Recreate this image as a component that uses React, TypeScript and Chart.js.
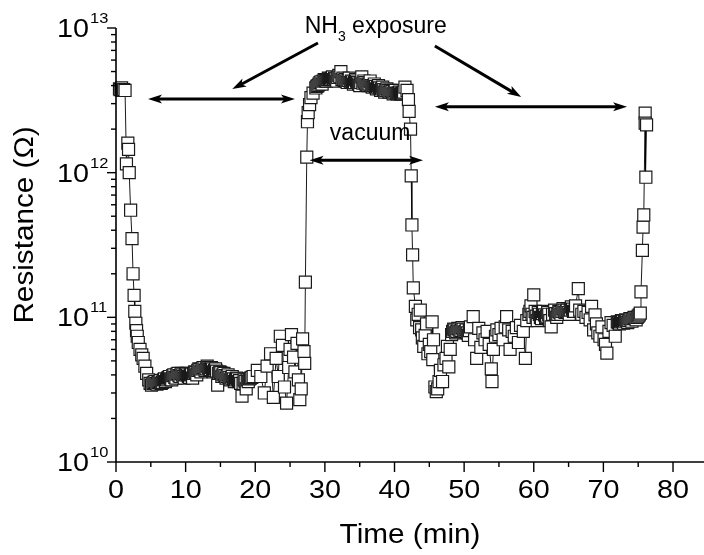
import React, { useEffect, useRef } from 'react';
import { Chart, registerables } from 'chart.js';

Chart.register(...registerables);

// ---------- data ----------
const timeMin: number[] = [
  0.5, 0.6, 0.8, 0.9, 1.1, 1.3,
  1.7, 1.8, 1.5, 1.9, 2.1, 2.3, 2.45, 2.6, 2.7, 2.85, 2.95, 3.05, 3.2, 3.45, 3.7, 3.9, 4.15, 4.4, 4.7, 4.9,
  5.1, 5.3, 5.6, 5.9, 6.2, 6.5, 6.8, 7.1, 7.4, 7.7, 8.0, 8.3, 8.6, 8.9, 9.2, 9.5, 9.8, 10.1, 10.4, 10.7, 11.0,
  11.3, 11.6, 11.9, 12.2, 12.5, 12.8, 13.1, 13.4, 13.7, 14.0, 14.3, 14.6, 14.9, 15.2, 15.5, 15.8, 16.1, 16.4,
  16.7, 17.0, 17.3, 17.6, 17.9, 18.1, 18.4, 18.7, 19.0, 19.3, 19.7,
  20.3, 20.8, 21.3, 21.7, 22.2, 22.6, 23.0, 23.3, 23.6, 23.9, 24.2, 24.5, 24.8, 25.0, 25.2, 25.5, 25.7, 26.0,
  26.2, 26.4, 26.6, 26.8, 27.0, 27.1, 27.2,
  27.4, 27.5, 27.6, 27.8, 28.0, 28.3, 28.7, 29.0, 29.3, 29.6, 29.9, 30.2, 30.5, 30.8, 31.1, 31.4, 31.7, 32.0,
  32.3, 32.6, 32.9, 33.2, 33.5, 33.8, 34.1, 34.4, 34.7, 35.0, 35.3, 35.6, 35.9, 36.2, 36.5, 36.8, 37.1, 37.4,
  37.7, 38.0, 38.3, 38.6, 38.9, 39.2, 39.5, 39.8, 40.1, 40.4, 40.7, 41.0, 41.3, 41.5, 41.8, 42.0, 42.1, 42.3,
  42.4, 42.5, 42.6, 42.7,
  43.0, 43.2, 43.4, 43.6, 43.7, 43.9, 44.0, 44.2, 44.4, 44.6, 44.8, 45.0, 45.2, 45.4, 45.5, 45.6, 45.8, 46.0,
  46.2, 46.4, 46.6, 46.9, 47.1, 47.4, 47.6, 47.8, 48.0, 48.2, 48.5, 48.8, 49.1, 49.4, 49.7, 50.0, 50.3, 50.6,
  50.9, 51.3, 51.5, 51.8, 52.1, 52.4, 52.7, 53.0, 53.3, 53.6, 53.9, 54.0, 54.2, 54.5, 54.7, 55.0, 55.3, 55.6,
  55.9, 56.1, 56.4, 56.6, 56.9, 57.2, 57.5, 57.8, 58.1, 58.5, 58.8, 59.0, 59.3, 59.6, 59.9, 60.0, 60.2, 60.5,
  60.8, 61.1, 61.4, 61.7, 62.0, 62.3, 62.5, 62.7, 63.0, 63.3, 63.6, 63.9, 64.2, 64.5, 64.8, 65.1, 65.4, 65.7,
  66.0, 66.4, 66.6, 66.9, 67.2, 67.5, 67.8, 68.1, 68.3, 68.6, 68.8, 69.0, 69.2, 69.5, 69.8, 70.1, 70.3, 70.5,
  70.8, 71.1, 71.4, 71.7, 72.0, 72.3, 72.6, 72.9, 73.2, 73.5, 73.8, 74.1, 74.4, 74.7, 75.0, 75.3,
  75.4, 75.6, 75.7, 75.8, 76.1, 76.2, 76.0, 76.0,
];

const resistanceOhm: number[] = [
  3.8e12, 3.75e12, 3.85e12, 3.7e12, 3.75e12, 3.7e12,
  1.6e12, 1.45e12, 1.15e12, 1.0e12, 5.5e11, 3.5e11, 2.0e11, 1.42e11, 1.1e11, 9.1e10, 8.1e10, 7.4e10, 6.7e10, 6.0e10, 5.5e10, 5.2e10, 4.6e10, 4.1e10, 3.7e10, 3.5e10,
  3.4e10, 3.5e10, 3.6e10, 3.45e10, 3.6e10, 3.5e10, 3.7e10, 3.6e10, 3.8e10, 3.9e10, 3.7e10, 4.0e10, 3.8e10, 4.1e10, 3.9e10, 4.0e10, 3.8e10, 4.1e10, 3.9e10, 4.0e10, 3.8e10,
  4.2e10, 4.0e10, 4.4e10, 4.2e10, 4.5e10, 4.3e10, 4.6e10, 4.4e10, 4.5e10, 4.2e10, 4.4e10, 3.4e10, 4.2e10, 3.9e10, 4.1e10, 3.8e10, 4.0e10, 3.7e10,
  3.9e10, 3.6e10, 3.8e10, 3.6e10, 3.5e10, 2.85e10, 3.7e10, 3.2e10, 3.6e10, 3.8e10, 3.9e10,
  4.3e10, 3.9e10, 3.0e10, 4.6e10, 5.6e10, 2.8e10, 5.2e10, 3.9e10, 7.4e10, 6.4e10, 3.3e10, 2.55e10, 4.5e10, 6.0e10, 7.6e10, 5.3e10, 4.2e10, 6.6e10,
  3.7e10, 2.7e10, 3.2e10, 7.1e10, 5.8e10, 4.8e10, 1.75e11,
  1.28e12, 2.25e12, 2.6e12, 2.95e12, 3.3e12, 3.55e12, 3.85e12, 4.0e12, 4.2e12, 4.1e12, 4.4e12, 4.3e12, 4.5e12, 4.4e12, 4.6e12, 4.5e12, 4.3e12, 4.7e12,
  5.0e12, 4.5e12, 4.4e12, 4.2e12, 4.5e12, 4.3e12, 4.1e12, 4.4e12, 4.2e12, 4.0e12, 4.6e12, 4.3e12, 4.1e12, 4.0e12, 4.3e12, 3.9e12, 4.1e12, 3.8e12,
  4.0e12, 3.7e12, 3.9e12, 3.6e12, 3.8e12, 3.6e12, 3.7e12, 3.5e12, 3.7e12, 3.5e12, 3.6e12, 3.5e12, 3.6e12, 3.9e12, 3.7e12, 3.2e12, 2.65e12, 2.0e12,
  9.5e11, 4.35e11, 2.7e11, 1.6e11,
  1.19e11, 9.6e10, 1.05e11, 8.5e10, 1.12e11, 8.2e10, 7.2e10, 6.3e10, 7.5e10, 9.0e10, 5.6e10, 6.5e10, 5.8e10, 9.3e10, 5.1e10, 7.0e10, 3.3e10, 3.07e10,
  3.2e10, 3.6e10, 4.3e10, 3.6e10, 4.7e10, 5.2e10, 6.3e10, 4.55e10, 6.0e10, 7.6e10, 8.3e10, 7.8e10, 8.4e10, 8.0e10, 8.5e10, 7.9e10, 8.2e10, 7.5e10,
  8.6e10, 1.01e11, 7.0e10, 5.2e10, 8.4e10, 6.2e10, 7.8e10, 7.0e10, 8.0e10, 6.5e10, 4.4e10, 3.6e10, 6.0e10, 7.4e10, 8.2e10, 7.6e10, 8.4e10, 7.0e10,
  8.6e10, 1.01e11, 8.2e10, 6.0e10, 8.0e10, 7.4e10, 8.5e10, 6.7e10, 8.8e10, 8.0e10, 5.2e10, 9.5e10, 1.05e11, 1.2e11, 1.0e11, 1.43e11, 1.1e11, 9.5e10,
  1.05e11, 9.8e10, 1.1e11, 1.0e11, 1.08e11, 9.5e10, 8.6e10, 1.05e11, 1.12e11, 1.0e11, 1.1e11, 1.05e11, 1.15e11, 1.08e11, 1.12e11, 1.05e11, 1.18e11, 1.1e11,
  1.2e11, 1.58e11, 1.12e11, 1.05e11, 1.1e11, 1.0e11, 1.08e11, 9.6e10, 1.19e11, 8.2e10, 1.04e11, 9.0e10, 7.8e10, 7.4e10, 8.6e10, 7.0e10, 6.5e10, 5.65e10,
  8.0e10, 9.2e10, 8.8e10, 7.4e10, 9.3e10, 9.0e10, 9.5e10, 9.1e10, 9.6e10, 9.2e10, 9.8e10, 9.4e10, 1.0e11, 9.6e10, 1.02e11, 1.07e11,
  1.5e11, 2.9e11, 4.2e11, 5.1e11, 9.3e11, 2.14e12, 2.58e12, 2.2e12,
];

// additional readings in the densely sampled stretches
const denseTimeMin: number[] = [
  5.45, 5.75, 6.05, 6.35, 6.65, 6.95, 7.25, 7.55, 7.85, 8.15, 8.45, 8.75, 9.05, 9.35, 9.65, 9.95, 10.25, 10.55,
  10.85, 11.15, 11.45, 11.75, 12.05, 12.35, 12.65, 12.95, 13.25, 13.55, 13.85, 14.15, 14.45, 14.75, 15.05, 15.35,
  15.65, 15.95, 16.25, 16.55, 16.85, 17.15, 17.45, 17.75, 18.25, 18.55, 18.85, 19.15, 19.5,
  28.85, 29.15, 29.45, 29.75, 30.05, 30.35, 30.65, 30.95, 31.25, 31.55, 31.85, 32.15, 32.45, 32.75, 33.05, 33.35,
  33.65, 33.95, 34.25, 34.55, 34.85, 35.15, 35.45, 35.75, 36.05, 36.35, 36.65, 36.95, 37.25, 37.55, 37.85, 38.15,
  38.45, 38.75, 39.05, 39.35, 39.65, 39.95, 40.25, 40.55, 40.85, 41.15,
  48.35, 48.65, 48.95, 49.25, 49.55, 49.85, 50.15, 50.45, 50.75,
  59.45, 59.75, 60.35, 60.65, 60.95, 61.25, 61.55, 61.85, 62.15, 63.15, 63.45, 63.75, 64.05, 64.35, 64.65, 64.95,
  65.25, 65.55, 65.85,
  72.15, 72.45, 72.75, 73.05, 73.35, 73.65, 73.95, 74.25, 74.55, 74.85, 75.15,
];
const denseResistanceOhm: number[] = [
  3.55e10, 3.5e10, 3.55e10, 3.65e10, 3.55e10, 3.75e10, 3.7e10, 3.85e10, 3.75e10, 3.95e10, 3.85e10, 4.05e10, 3.95e10, 4.1e10, 3.9e10, 4.0e10, 4.0e10, 3.85e10,
  4.05e10, 4.1e10, 4.15e10, 4.3e10, 4.35e10, 4.4e10, 4.5e10, 4.4e10, 4.5e10, 4.35e10, 4.4e10, 4.3e10, 4.25e10, 4.1e10, 4.15e10, 4.0e10,
  3.95e10, 3.9e10, 3.85e10, 3.8e10, 3.75e10, 3.7e10, 3.75e10, 3.65e10, 3.5e10, 3.6e10, 3.7e10, 3.75e10, 3.85e10,
  3.95e12, 4.1e12, 4.25e12, 4.3e12, 4.35e12, 4.4e12, 4.45e12, 4.5e12, 4.4e12, 4.45e12, 4.55e12, 4.6e12, 4.4e12, 4.35e12, 4.3e12, 4.35e12,
  4.2e12, 4.25e12, 4.2e12, 4.3e12, 4.1e12, 4.2e12, 4.15e12, 4.2e12, 4.05e12, 4.1e12, 4.0e12, 4.0e12, 3.95e12, 3.9e12, 3.85e12, 3.8e12,
  3.75e12, 3.7e12, 3.7e12, 3.6e12, 3.65e12, 3.6e12, 3.55e12, 3.55e12, 3.5e12, 3.55e12,
  8.0e10, 8.2e10, 8.0e10, 8.3e10, 8.1e10, 8.3e10, 8.0e10, 7.8e10, 8.1e10,
  1.1e11, 1.05e11, 1.02e11, 1.08e11, 1.0e11, 1.06e11, 1.04e11, 1.02e11, 1.05e11, 1.06e11, 1.05e11, 1.08e11, 1.1e11, 1.12e11, 1.1e11, 1.08e11,
  1.12e11, 1.14e11, 1.1e11,
  9.2e10, 9.3e10, 9.4e10, 9.4e10, 9.5e10, 9.5e10, 9.7e10, 9.8e10, 9.9e10, 1.0e11, 1.04e11,
];

const xMajorTicks: number[] = [0, 10, 20, 30, 40, 50, 60, 70, 80];
const xMinorTicks: number[] = [5, 15, 25, 35, 45, 55, 65, 75];
const yDecadeExponents: number[] = [10, 11, 12, 13];
const yMinorMultipliers: number[] = [2, 3, 4, 5, 6, 7, 8, 9];

const xAxisTitle = 'Time (min)';
const yAxisTitle = 'Resistance (Ω)';
const exposureMain = 'NH';
const exposureSub = '3';
const exposureRest = ' exposure';
const vacuumText = 'vacuum';

// annotation anchors in data units
const exposureLabelAt = { x: 37.3, y: 9.2e12 };
const vacuumLabelAt = { x: 36.5, y: 1.68e12 };
const doubleArrows = [
  { x1: 4.6, x2: 25.7, y: 3.23e12 },
  { x1: 27.8, x2: 44.1, y: 1.22e12 },
  { x1: 45.8, x2: 73.4, y: 2.85e12 },
];
const pointerArrows = [
  { x1: 29.0, y1: 7.87e12, x2: 16.7, y2: 3.78e12 },
  { x1: 45.8, y1: 7.5e12, x2: 58.2, y2: 3.33e12 },
];

const FONT = '"Liberation Sans", Arial, Helvetica, sans-serif';

function stretchedText(ctx: CanvasRenderingContext2D, text: string, x: number, y: number, sx: number) {
  ctx.save();
  ctx.translate(x, y);
  ctx.scale(sx, 1);
  ctx.fillText(text, 0, 0);
  ctx.restore();
}

function arrowHead(ctx: CanvasRenderingContext2D, fx: number, fy: number, tx: number, ty: number, len: number, half: number) {
  const a = Math.atan2(ty - fy, tx - fx);
  const c = Math.cos(a), s = Math.sin(a);
  ctx.beginPath();
  ctx.moveTo(tx, ty);
  ctx.lineTo(tx - len * c + half * s, ty - len * s - half * c);
  ctx.lineTo(tx - len * 0.75 * c, ty - len * 0.75 * s);
  ctx.lineTo(tx - len * c - half * s, ty - len * s + half * c);
  ctx.closePath();
  ctx.fill();
}

function arrow(ctx: CanvasRenderingContext2D, x1: number, y1: number, x2: number, y2: number, both: boolean) {
  const len = 14, half = 4.5;
  const a = Math.atan2(y2 - y1, x2 - x1);
  const c = Math.cos(a), s = Math.sin(a);
  const sx = both ? x1 + len * 0.7 * c : x1;
  const sy = both ? y1 + len * 0.7 * s : y1;
  ctx.beginPath();
  ctx.moveTo(sx, sy);
  ctx.lineTo(x2 - len * 0.7 * c, y2 - len * 0.7 * s);
  ctx.stroke();
  arrowHead(ctx, x1, y1, x2, y2, len, half);
  if (both) arrowHead(ctx, x2, y2, x1, y1, len, half);
}

const decorPlugin = {
  id: 'decor',
  afterDatasetsDraw(chart: any) {
    const ctx: CanvasRenderingContext2D = chart.ctx;
    const xs = chart.scales.x;
    const ys = chart.scales.y;
    const area = chart.chartArea;
    ctx.save();
    ctx.strokeStyle = '#000';
    ctx.fillStyle = '#000';
    ctx.lineCap = 'butt';

    // axis lines
    ctx.lineWidth = 1.6;
    ctx.beginPath();
    ctx.moveTo(area.left, area.top);
    ctx.lineTo(area.left, area.bottom);
    ctx.lineTo(area.right, area.bottom);
    ctx.stroke();

    // x ticks
    ctx.lineWidth = 1.4;
    for (const v of xMajorTicks) {
      const px = xs.getPixelForValue(v);
      ctx.beginPath(); ctx.moveTo(px, area.bottom); ctx.lineTo(px, area.bottom + 10); ctx.stroke();
    }
    for (const v of xMinorTicks) {
      const px = xs.getPixelForValue(v);
      ctx.beginPath(); ctx.moveTo(px, area.bottom); ctx.lineTo(px, area.bottom + 5); ctx.stroke();
    }
    ctx.font = `25px ${FONT}`;
    ctx.textAlign = 'center';
    ctx.textBaseline = 'alphabetic';
    for (const v of xMajorTicks) {
      stretchedText(ctx, String(v), xs.getPixelForValue(v), area.bottom + 36, 1.15);
    }

    // y ticks
    for (const e of yDecadeExponents) {
      const py = ys.getPixelForValue(Math.pow(10, e));
      ctx.beginPath(); ctx.moveTo(area.left - 9, py); ctx.lineTo(area.left, py); ctx.stroke();
      if (e < yDecadeExponents[yDecadeExponents.length - 1]) {
        for (const m of yMinorMultipliers) {
          const pm = ys.getPixelForValue(m * Math.pow(10, e));
          ctx.beginPath(); ctx.moveTo(area.left - 5, pm); ctx.lineTo(area.left, pm); ctx.stroke();
        }
      }
      ctx.font = `25px ${FONT}`;
      ctx.textAlign = 'right';
      ctx.textBaseline = 'alphabetic';
      stretchedText(ctx, '10', area.left - 27, py + 9, 1.15);
      ctx.font = `15px ${FONT}`;
      ctx.textAlign = 'left';
      stretchedText(ctx, String(e), area.left - 26, py - 5, 1.1);
    }

    // axis titles
    ctx.font = `27px ${FONT}`;
    ctx.textAlign = 'center';
    ctx.textBaseline = 'alphabetic';
    stretchedText(ctx, xAxisTitle, (area.left + area.right) / 2, area.bottom + 81, 1.1);
    ctx.save();
    ctx.translate(33, 225);
    ctx.rotate(-Math.PI / 2);
    stretchedText(ctx, yAxisTitle, 0, 0, 1.1);
    ctx.restore();

    // arrows
    ctx.lineWidth = 3;
    for (const d of doubleArrows) {
      const py = ys.getPixelForValue(d.y);
      arrow(ctx, xs.getPixelForValue(d.x1), py, xs.getPixelForValue(d.x2), py, true);
    }
    for (const p of pointerArrows) {
      arrow(ctx, xs.getPixelForValue(p.x1), ys.getPixelForValue(p.y1), xs.getPixelForValue(p.x2), ys.getPixelForValue(p.y2), false);
    }

    // annotation texts
    ctx.textAlign = 'left';
    ctx.textBaseline = 'alphabetic';
    const big = `23px ${FONT}`;
    const small = `14px ${FONT}`;
    ctx.font = big;
    const wMain = ctx.measureText(exposureMain).width;
    const wRest = ctx.measureText(exposureRest).width;
    ctx.font = small;
    const wSub = ctx.measureText(exposureSub).width;
    const total = wMain + wSub + wRest;
    let tx = xs.getPixelForValue(exposureLabelAt.x) - total / 2;
    const ty = ys.getPixelForValue(exposureLabelAt.y);
    ctx.font = big; ctx.fillText(exposureMain, tx, ty); tx += wMain;
    ctx.font = small; ctx.fillText(exposureSub, tx, ty + 8); tx += wSub;
    ctx.font = big; ctx.fillText(exposureRest, tx, ty);

    ctx.textAlign = 'center';
    ctx.font = big;
    ctx.fillText(vacuumText, xs.getPixelForValue(vacuumLabelAt.x), ys.getPixelForValue(vacuumLabelAt.y));
    ctx.restore();
  },
};

export default function App() {
  const canvasRef = useRef<HTMLCanvasElement | null>(null);

  useEffect(() => {
    const canvas = canvasRef.current;
    if (!canvas) return;
    const main = timeMin.map((t, i) => ({ x: t, y: resistanceOhm[i], k: i }));
    const dense = denseTimeMin.map((t, i) => ({ x: t, y: denseResistanceOhm[i], k: 10000 + i }));
    const points = main.concat(dense).sort((a, b) => a.x - b.x || a.k - b.k).map((p) => ({ x: p.x, y: p.y }));
    const chart = new Chart(canvas, {
      type: 'line',
      data: {
        datasets: [
          {
            data: points,
            borderColor: '#000',
            borderWidth: 0.9,
            pointStyle: 'rect',
            pointRadius: 8.5,
            pointBorderWidth: 1.2,
            pointBorderColor: '#1a1a1a',
            pointBackgroundColor: '#ffffff',
            tension: 0,
            clip: false,
          } as any,
        ],
      },
      options: {
        responsive: false,
        maintainAspectRatio: false,
        animation: false,
        devicePixelRatio: 1,
        layout: { autoPadding: false, padding: { left: 116, right: 0, top: 28, bottom: 93 } },
        plugins: { legend: { display: false }, tooltip: { enabled: false }, title: { display: false } },
        scales: {
          x: { type: 'linear', min: 0, max: 84.45, display: false },
          y: { type: 'logarithmic', min: 1e10, max: 1e13, display: false },
        },
      } as any,
      plugins: [decorPlugin],
    });
    return () => chart.destroy();
  }, []);

  return (
    <div style={{ position: 'fixed', left: 0, top: 0, width: 704, height: 555, background: '#fff' }}>
      <canvas ref={canvasRef} width={704} height={555} style={{ display: 'block' }} />
    </div>
  );
}
